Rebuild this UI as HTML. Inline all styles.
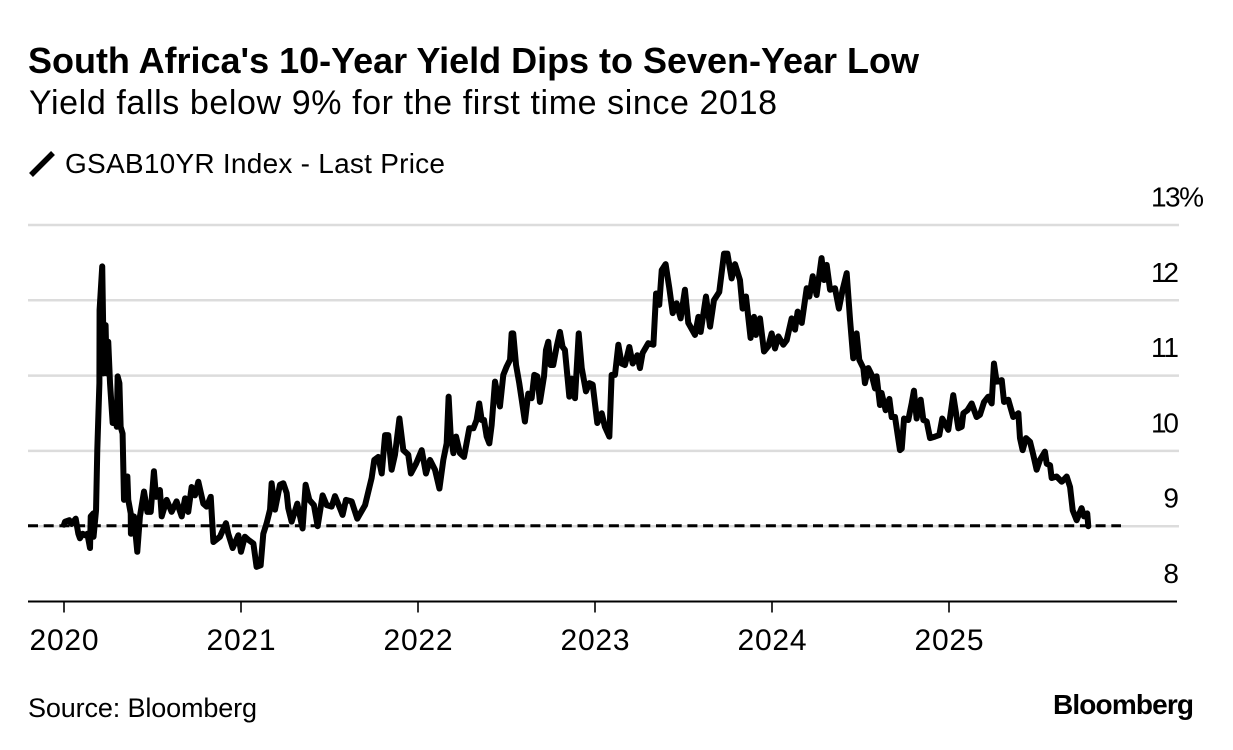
<!DOCTYPE html>
<html lang="en">
<head>
<meta charset="utf-8">
<title>South Africa's 10-Year Yield Dips to Seven-Year Low</title>
<style>
html,body{margin:0;padding:0;background:#fff;width:1233px;height:750px;overflow:hidden}
svg{display:block}
text{font-family:"Liberation Sans",Arial,sans-serif;fill:#000}
</style>
</head>
<body>
<svg id="chart" xmlns="http://www.w3.org/2000/svg" width="1233" height="750" viewBox="0 0 1233 750">
  <rect x="0" y="0" width="1233" height="750" fill="#fff"/>
  <text x="28" y="73" font-size="36" font-weight="700" textLength="891" lengthAdjust="spacing">South Africa's 10-Year Yield Dips to Seven-Year Low</text>
  <text x="29" y="114" font-size="34" textLength="748" lengthAdjust="spacing">Yield falls below 9% for the first time since 2018</text>
  <line x1="31" y1="175" x2="53" y2="153" stroke="#000" stroke-width="5.5"/>
  <text x="65" y="173" font-size="28" textLength="380" lengthAdjust="spacing">GSAB10YR Index - Last Price</text>
  <g id="grid"></g>
  <g id="y-labels"></g>
  <path id="series" fill="none" stroke="#000" stroke-width="6" stroke-linejoin="round" stroke-linecap="round"/>
  <line id="ref" stroke="#000" stroke-width="3" stroke-dasharray="10 5.7"/>
  <g id="x-axis"></g>
  <text x="28" y="717" font-size="27" textLength="229" lengthAdjust="spacing">Source: Bloomberg</text>
  <text x="1053" y="714" font-size="28" font-weight="700" textLength="141" lengthAdjust="spacing">Bloomberg</text>
</svg>
<script>
// Years since 1 Jan 2020
var times = [0,.006,.030,.043,.066,.081,.090,.105,.119,.132,.147,.151,.166,.167,.181,.188,.200,.201,.216,.222,.223,.235,.241,.250,.260,.275,.288,.298,.303,.313,.320,.331,.339,.358,.363,.377,.378,.395,.414,.429,.452,.471,.490,.508,.520,.542,.552,.580,.608,.636,.665,.684,.702,.721,.740,.759,.787,.806,.829,.844,.881,.915,.928,.953,.985,1.000,1.022,1.041,1.070,1.088,1.111,1.126,1.145,1.164,1.173,1.192,1.220,1.239,1.258,1.267,1.286,1.318,1.348,1.365,1.386,1.412,1.433,1.461,1.484,1.512,1.531,1.559,
1.574,1.593,1.625,1.657,1.701,1.738,1.753,1.776,1.795,1.814,1.832,1.851,1.870,1.895,1.917,1.945,1.960,1.989,2.021,2.045,2.068,2.096,2.121,2.143,2.162,2.173,2.184,2.200,2.215,2.237,2.260,2.290,2.313,2.331,2.346,2.360,2.373,2.388,2.403,2.416,2.435,2.463,2.482,2.501,2.520,2.529,2.538,2.554,2.572,2.586,2.604,2.623,2.642,2.657,2.674,2.689,2.712,2.723,2.736,2.749,2.764,2.783,2.802,2.817,2.830,2.855,2.868,2.887,2.908,2.925,2.949,2.968,2.987,3.013,3.038,3.056,3.081,3.094,3.113,3.132,3.150,3.169,3.194,3.213,3.239,3.254,
3.269,3.301,3.330,3.345,3.363,3.377,3.399,3.420,3.439,3.461,3.484,3.508,3.527,3.565,3.584,3.597,3.627,3.650,3.672,3.702,3.729,3.748,3.772,3.791,3.819,3.834,3.853,3.879,3.898,3.909,3.932,3.955,3.979,3.998,4.017,4.036,4.064,4.083,4.111,4.130,4.145,4.168,4.196,4.211,4.230,4.252,4.280,4.294,4.309,4.328,4.356,4.378,4.399,4.422,4.441,4.459,4.478,4.493,4.516,4.525,4.544,4.563,4.582,4.591,4.610,4.619,4.642,4.663,4.676,4.695,4.723,
4.733,4.746,4.770,4.789,4.802,4.817,4.840,4.855,4.874,4.893,4.921,4.945,4.962,4.996,5.024,5.053,5.072,5.081,5.104,5.128,5.156,5.175,5.198,5.222,5.241,5.254,5.269,5.298,5.311,5.335,5.363,5.392,5.401,5.416,5.435,5.458,5.476,5.495,5.514,5.542,5.552,5.571,5.580,5.608,5.637,5.665,5.684,5.699,5.721,5.749,5.763,5.781,5.787];
// Yield, percent
var yields = [9.02,9.06,9.08,9.03,9.10,8.90,8.84,8.90,8.88,8.90,8.71,9.13,9.17,8.86,9.21,10.01,10.90,11.87,12.45,11.56,11.03,11.67,11.03,11.45,10.90,10.37,10.54,10.32,10.99,10.90,10.32,10.23,9.35,9.66,9.35,9.17,8.90,9.13,8.66,9.13,9.46,9.19,9.19,9.73,9.39,9.48,9.13,9.35,9.19,9.33,9.13,9.37,9.19,9.52,9.41,9.59,9.30,9.26,9.39,8.79,8.86,9.04,8.90,8.71,8.88,8.66,8.86,8.82,8.77,8.46,8.48,8.90,9.04,9.22,9.57,9.22,9.55,9.57,9.44,9.24,9.06,9.30,8.97,9.55,9.35,9.28,9.00,9.41,9.28,9.26,9.40,9.24,
9.15,9.35,9.33,9.10,9.28,9.64,9.88,9.92,9.70,10.21,10.21,9.75,9.95,10.43,10.01,9.95,9.70,9.83,10.01,9.70,9.88,9.75,9.50,9.88,10.10,10.72,10.23,9.97,10.19,9.97,9.92,10.30,10.30,10.41,10.63,10.41,10.41,10.19,10.10,10.34,10.92,10.59,11.01,11.12,11.21,11.56,11.56,11.14,10.90,10.68,10.39,10.76,10.70,11.01,10.99,10.65,10.99,11.34,11.45,11.14,11.14,11.38,11.58,11.38,11.34,10.72,10.96,10.70,11.56,11.10,10.79,10.90,10.88,10.37,10.50,10.32,10.19,11.01,11.01,11.41,11.16,11.14,11.38,11.16,11.27,11.10,
11.30,11.43,11.41,12.09,11.94,12.40,12.48,12.16,11.83,11.96,11.76,12.14,11.70,11.54,11.78,11.58,12.05,11.65,12.00,12.11,12.62,12.62,12.29,12.48,12.27,11.89,12.05,11.50,11.78,11.54,11.76,11.32,11.39,11.56,11.36,11.52,11.41,11.47,11.76,11.61,11.85,11.70,12.16,12.05,12.32,12.07,12.56,12.27,12.47,12.14,12.16,11.89,12.14,12.36,11.74,11.23,11.56,11.21,11.10,10.90,11.10,11.01,10.83,10.99,10.61,10.77,10.54,10.69,10.45,10.45,10.01,
10.03,10.43,10.41,10.63,10.80,10.43,10.68,10.41,10.39,10.17,10.19,10.21,10.43,10.28,10.74,10.30,10.32,10.50,10.54,10.63,10.45,10.48,10.65,10.72,10.63,11.16,10.92,10.94,10.65,10.68,10.45,10.50,10.17,10.01,10.17,10.12,9.95,9.75,9.88,9.99,9.83,9.81,9.64,9.66,9.59,9.66,9.52,9.21,9.08,9.24,9.13,9.17,9.00];
var yTicks = [13,12,11,10,9,8];
var yTickLabels = ["13%","12","11","10","9","8"];
var xTickOffsets = [0,1,2,3,4,5];
var xTickLabels = ["2020","2021","2022","2023","2024","2025"];
var referenceLevel = [9];

var SVG_NS = "http://www.w3.org/2000/svg";
function xScale(t){ return 64 + t * 177; }
function yScale(v){ return 601.5 - (v - 8) * 75.3; }
function make(tag, attrs, parent){
  var el = document.createElementNS(SVG_NS, tag);
  for (var k in attrs) el.setAttribute(k, attrs[k]);
  parent.appendChild(el);
  return el;
}

var gridGroup = document.getElementById("grid");
var yLabelGroup = document.getElementById("y-labels");
yTicks.forEach(function(v, i){
  if (v !== 8) {
    var g = make("line", {x1:28, x2:1179, y1:yScale(v), y2:yScale(v), stroke:"#dcdcdc", "stroke-width":2.5}, gridGroup);
    
    
  }
  var label = yTickLabels[i];
  var t;
  if (label.indexOf("%") >= 0) {
    t = make("text", {x:1151, y:yScale(v) - 18.5, "font-size":28, textLength:53, lengthAdjust:"spacing"}, yLabelGroup);
  } else if (label.length === 2) {
    t = make("text", {x:1151, y:yScale(v) - 18.5, "font-size":28, textLength:28, lengthAdjust:"spacing"}, yLabelGroup);
  } else {
    t = make("text", {x:1179, y:yScale(v) - 18.5, "font-size":28, "text-anchor":"end"}, yLabelGroup);
  }
  t.textContent = label;
  
  
});

var d = "";
for (var i = 0; i < times.length; i++) {
  d += (i ? "L" : "M") + xScale(times[i]).toFixed(2) + " " + yScale(yields[i]).toFixed(2);
}
document.getElementById("series").setAttribute("d", d);

var ref = document.getElementById("ref");
ref.setAttribute("x1", 28);
ref.setAttribute("x2", 1121);
ref.setAttribute("y1", yScale(referenceLevel[0]) - 0.5);
ref.setAttribute("y2", yScale(referenceLevel[0]) - 0.5);

var xAxisGroup = document.getElementById("x-axis");
var baseline = make("line", {x1:28, x2:1177, y1:yScale(8), y2:yScale(8), stroke:"#000", "stroke-width":2}, xAxisGroup);


xTickOffsets.forEach(function(t, i){
  var tick = make("line", {x1:xScale(t), x2:xScale(t), y1:yScale(8), y2:yScale(8) + 11, stroke:"#000", "stroke-width":1.6}, xAxisGroup);
  
  
  var lab = make("text", {x:xScale(t) - 34.5, y:650, "font-size":30, textLength:69, lengthAdjust:"spacing"}, xAxisGroup);
  lab.textContent = xTickLabels[i];
  
  
});
</script>
</body>
</html>
